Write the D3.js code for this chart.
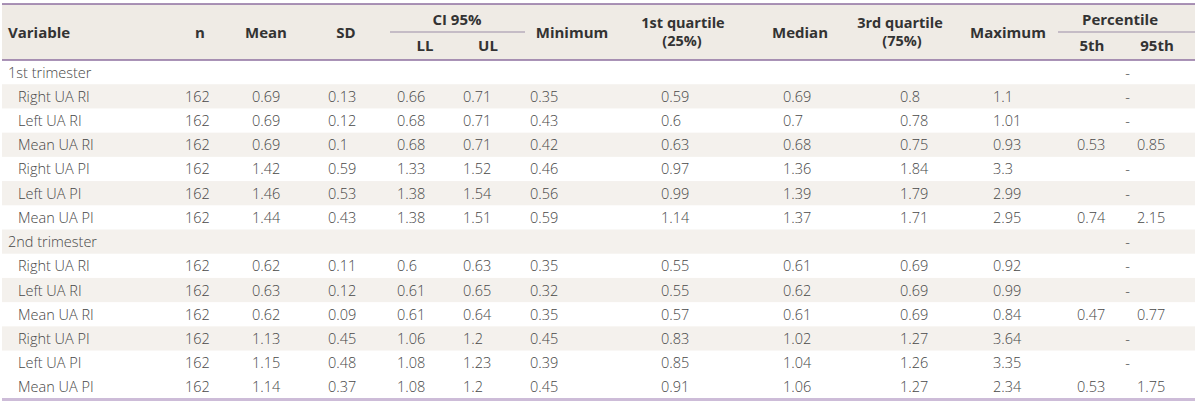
<!DOCTYPE html>
<html>
<head>
<meta charset="utf-8">
<script src="https://cdn.jsdelivr.net/npm/d3@7"></script>
<style>
html,body{margin:0;padding:0;background:#fff;}
svg{display:block;}
</style>
</head>
<body>
<svg id="chart" width="1200" height="403"></svg>
<script>
// ---- Data ----
const sections = ["1st trimester", "2nd trimester"];
const variables = ["Right UA RI", "Left UA RI", "Mean UA RI", "Right UA PI", "Left UA PI", "Mean UA PI"];
const nValues = [162, 162, 162, 162, 162, 162, 162, 162, 162, 162, 162, 162];
const meanValues = [0.69, 0.69, 0.69, 1.42, 1.46, 1.44, 0.62, 0.63, 0.62, 1.13, 1.15, 1.14];
const sdValues = [0.13, 0.12, 0.1, 0.59, 0.53, 0.43, 0.11, 0.12, 0.09, 0.45, 0.48, 0.37];
const llValues = [0.66, 0.68, 0.68, 1.33, 1.38, 1.38, 0.6, 0.61, 0.61, 1.06, 1.08, 1.08];
const ulValues = [0.71, 0.71, 0.71, 1.52, 1.54, 1.51, 0.63, 0.65, 0.64, 1.2, 1.23, 1.2];
const minValues = [0.35, 0.43, 0.42, 0.46, 0.56, 0.59, 0.35, 0.32, 0.35, 0.45, 0.39, 0.45];
const q1Values = [0.59, 0.6, 0.63, 0.97, 0.99, 1.14, 0.55, 0.55, 0.57, 0.83, 0.85, 0.91];
const medianValues = [0.69, 0.7, 0.68, 1.36, 1.39, 1.37, 0.61, 0.62, 0.61, 1.02, 1.04, 1.06];
const q3Values = [0.8, 0.78, 0.75, 1.84, 1.79, 1.71, 0.69, 0.69, 0.69, 1.27, 1.26, 1.27];
const maxValues = [1.1, 1.01, 0.93, 3.3, 2.99, 2.95, 0.92, 0.99, 0.84, 3.64, 3.35, 2.34];
const p5Values = [null, null, 0.53, null, null, 0.74, null, null, 0.47, null, null, 0.53];
const p95Values = [null, null, 0.85, null, null, 2.15, null, null, 0.77, null, null, 1.75];

const columnKeys = ["n", "mean", "sd", "ll", "ul", "min", "q1", "median", "q3", "max", "p5", "p95"];
const columnData = {n: nValues, mean: meanValues, sd: sdValues, ll: llValues, ul: ulValues,
  min: minValues, q1: q1Values, median: medianValues, q3: q3Values, max: maxValues,
  p5: p5Values, p95: p95Values};

// ---- Build row table ----
const rows = [];
sections.forEach((s, si) => {
  rows.push({type: "section", label: s});
  variables.forEach((v, vi) => {
    const idx = si * variables.length + vi;
    const r = {type: "data", label: v};
    columnKeys.forEach(k => r[k] = columnData[k][idx]);
    rows.push(r);
  });
});

// ---- Layout ----
const svg = d3.select("#chart");
const tableLeft = 2, tableRight = 1195;
const headTop = 4, headBottom = 60, tableBottom = 399;

const y = d3.scaleBand().domain(d3.range(rows.length)).range([headBottom, tableBottom]).padding(0);
const xLeft = d3.scaleOrdinal()
  .domain(columnKeys)
  .range([185, 252, 328, 397, 463, 530, 661, 783, 900, 993, 1077, 1137]);

const bodyFont = "'Open Sans', 'DejaVu Sans', sans-serif";
const bodyColor = "#474747";
const headColor = "#333";
const beige = "#efebe5";
const stripe = "#f4f1ed";

// header background
svg.append("rect").attr("x", tableLeft).attr("y", headTop).attr("width", tableRight - tableLeft)
  .attr("height", headBottom - headTop).attr("fill", beige);

// row stripes
svg.selectAll("rect.stripe").data(rows.map((r, i) => i).filter(i => i % 2 === 1 && i < rows.length - 1))
  .join("rect").attr("class", "stripe")
  .attr("x", tableLeft).attr("width", tableRight - tableLeft)
  .attr("y", i => y(i)).attr("height", y.bandwidth())
  .attr("fill", stripe);

// lines
svg.append("line").attr("x1", tableLeft).attr("x2", tableRight).attr("y1", headTop).attr("y2", headTop)
  .attr("stroke", "#8e6f9f").attr("stroke-width", 1.6);
svg.append("line").attr("x1", tableLeft).attr("x2", tableRight).attr("y1", headBottom).attr("y2", headBottom)
  .attr("stroke", "#8e6f9f").attr("stroke-width", 1.4);
svg.append("line").attr("x1", tableLeft).attr("x2", tableRight).attr("y1", tableBottom + 0.5).attr("y2", tableBottom + 0.5)
  .attr("stroke", "#cdbcd8").attr("stroke-width", 3);
// spanner rules
[[390, 525], [1058, 1195]].forEach(([a, b]) => {
  svg.append("line").attr("x1", a).attr("x2", b).attr("y1", 32).attr("y2", 32)
    .attr("stroke", "#9c8da8").attr("stroke-width", 1.2);
});

// header texts
const headers = [
  {t: "Variable", x: 8, y: 32, anchor: "start"},
  {t: "n", x: 200, y: 32},
  {t: "Mean", x: 266, y: 32},
  {t: "SD", x: 346, y: 32},
  {t: "CI 95%", x: 457, y: 19},
  {t: "LL", x: 425, y: 45},
  {t: "UL", x: 488, y: 45},
  {t: "Minimum", x: 572, y: 32},
  {t: "1st quartile", x: 683, y: 22, fs: 14.5},
  {t: "(25%)", x: 682, y: 40.5, fs: 14.5},
  {t: "Median", x: 800, y: 32},
  {t: "3rd quartile", x: 900, y: 22, fs: 14.5},
  {t: "(75%)", x: 902, y: 40.5, fs: 14.5},
  {t: "Maximum", x: 1008, y: 32},
  {t: "Percentile", x: 1120, y: 19},
  {t: "5th", x: 1092, y: 45},
  {t: "95th", x: 1157, y: 45}
];
svg.selectAll("text.head").data(headers).join("text").attr("class", "head")
  .attr("x", d => d.x).attr("y", d => d.y)
  .attr("text-anchor", d => d.anchor || "middle")
  .attr("dominant-baseline", "central")
  .attr("font-family", bodyFont).attr("font-weight", 700).attr("font-size", d => (d.fs || 15) + "px")
  .attr("fill", headColor).text(d => d.t);

// body
const rowG = svg.selectAll("g.row").data(rows).join("g").attr("class", "row")
  .attr("transform", (d, i) => `translate(0,${y(i) + y.bandwidth() / 2})`);

rowG.append("text")
  .attr("x", d => d.type === "section" ? 8 : 18)
  .attr("dominant-baseline", "central")
  .attr("font-family", bodyFont).attr("font-weight", 300).attr("font-size", "14.5px")
  .attr("fill", bodyColor).text(d => d.label);

rowG.each(function(d) {
  const g = d3.select(this);
  if (d.type === "data") {
    columnKeys.forEach(k => {
      if (d[k] === null) return;
      g.append("text").attr("x", xLeft(k))
        .attr("dominant-baseline", "central")
        .attr("font-family", bodyFont).attr("font-weight", 300).attr("font-size", "14.5px")
        .attr("fill", bodyColor).text(String(d[k]));
    });
  }
  if (d.type === "section" || d.p5 === null) {
    g.append("text").attr("x", 1127.5)
      .attr("text-anchor", "middle")
      .attr("dominant-baseline", "central")
      .attr("font-family", bodyFont).attr("font-weight", 300).attr("font-size", "14.5px")
      .attr("fill", bodyColor).text("-");
  }
});
</script>
</body>
</html>
